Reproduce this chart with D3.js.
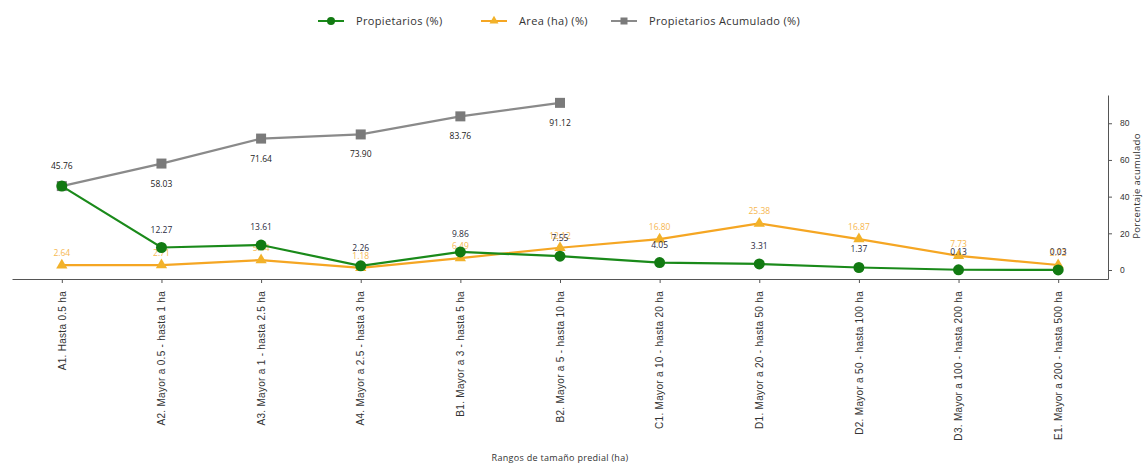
<!DOCTYPE html>
<html lang="es">
<head>
<meta charset="UTF-8">
<title>Rangos de tamaño predial</title>
<script src="https://cdn.jsdelivr.net/npm/d3@7"></script>
<style>
  body { margin: 0; background: #fff; }
  svg { font-family: "Open Sans", sans-serif; }
</style>
</head>
<body>
<svg width="1144" height="464"></svg>
<script>
// categories (size ranges)
const categories = [
  "A1. Hasta 0.5 ha",
  "A2. Mayor a 0.5 - hasta 1 ha",
  "A3. Mayor a 1 - hasta 2.5 ha",
  "A4. Mayor a 2.5 - hasta 3 ha",
  "B1. Mayor a 3 - hasta 5 ha",
  "B2. Mayor a 5 - hasta 10 ha",
  "C1. Mayor a 10 - hasta 20 ha",
  "D1. Mayor a 20 - hasta 50 ha",
  "D2. Mayor a 50 - hasta 100 ha",
  "D3. Mayor a 100 - hasta 200 ha",
  "E1. Mayor a 200 - hasta 500 ha"
];
const propietarios = [45.76, 12.27, 13.61, 2.26, 9.86, 7.55, 4.05, 3.31, 1.37, 0.13, 0.03];
const area = [2.64, 2.71, 5.44, 1.18, 6.49, 12.12, 16.80, 25.38, 16.87, 7.73, 2.72];
const acumulado = [45.76, 58.03, 71.64, 73.90, 83.76, 91.12];
const yTicks = [0, 20, 40, 60, 80];

const GREEN = "#1a8a1a", ORANGE = "#f5a623", GRAY = "#8a8a8a";

const svg = d3.select("svg");

const x = d3.scalePoint().domain(categories).range([12, 1108]).padding(0.5);
const y = d3.scaleLinear().domain([-4.9, 95.4]).range([279, 95]);

// bottom axis
const xAxis = svg.append("g")
    .attr("transform", "translate(0,279)")
    .call(d3.axisBottom(x).tickSize(4).tickSizeOuter(0));
xAxis.select(".domain").attr("stroke", "#555");
xAxis.selectAll(".tick line").attr("stroke", "#555");
xAxis.selectAll(".tick text")
    .attr("transform", "rotate(-90)")
    .attr("text-anchor", "end")
    .attr("x", -12)
    .attr("y", 0)
    .attr("dy", "0.32em")
    .attr("font-size", "10px")
    .attr("letter-spacing", "0.3px")
    .attr("fill", "#333");

// right axis
const yAxis = svg.append("g")
    .attr("transform", "translate(1108,0)")
    .call(d3.axisRight(y).tickValues(yTicks).tickSize(4).tickSizeOuter(0));
yAxis.select(".domain").attr("stroke", "#555");
yAxis.selectAll(".tick line").attr("stroke", "#555");
yAxis.selectAll(".tick text")
    .attr("x", 12)
    .attr("font-size", "8.5px")
    .attr("fill", "#333");

svg.append("text")
    .attr("transform", "translate(1140,186) rotate(-90)")
    .attr("text-anchor", "middle")
    .attr("font-size", "9.5px")
    .attr("letter-spacing", "0.3px")
    .attr("fill", "#333")
    .text("Porcentaje acumulado");

svg.append("text")
    .attr("x", 560)
    .attr("y", 461)
    .attr("text-anchor", "middle")
    .attr("font-size", "9px")
    .attr("letter-spacing", "0.3px")
    .attr("fill", "#333")
    .text("Rangos de tamaño predial (ha)");

const line = d3.line()
    .x((d, i) => x(categories[i]))
    .y(d => y(d));

// Propietarios Acumulado
svg.append("path").datum(acumulado)
    .attr("d", line).attr("fill", "none")
    .attr("stroke", GRAY).attr("stroke-width", 2.2);
svg.append("g").selectAll("rect").data(acumulado).enter().append("rect")
    .attr("x", (d, i) => x(categories[i]) - 5)
    .attr("y", d => y(d) - 5)
    .attr("width", 10).attr("height", 10)
    .attr("fill", "#7a7a7a");
svg.append("g").selectAll("text").data(acumulado).enter().append("text")
    .attr("x", (d, i) => x(categories[i]))
    .attr("y", (d, i) => i == 0 ? y(d) - 17 : y(d) + 23)
    .attr("text-anchor", "middle")
    .attr("font-size", "8.5px")
    .attr("fill", "#222")
    .text(d => d.toFixed(2));

// Area (ha)
svg.append("path").datum(area)
    .attr("d", line).attr("fill", "none")
    .attr("stroke", ORANGE).attr("stroke-width", 2.2);
const tri = d3.symbol().type(d3.symbolTriangle).size(55);
svg.append("g").selectAll("path").data(area).enter().append("path")
    .attr("transform", (d, i) => `translate(${x(categories[i])},${y(d)})`)
    .attr("d", tri)
    .attr("fill", "#f2b22a");
svg.append("g").selectAll("text").data(area).enter().append("text")
    .attr("x", (d, i) => x(categories[i]))
    .attr("y", d => y(d) - 9)
    .attr("text-anchor", "middle")
    .attr("font-size", "8.5px")
    .attr("fill", ORANGE)
    .attr("opacity", 0.8)
    .text(d => d.toFixed(2));

// Propietarios
svg.append("path").datum(propietarios)
    .attr("d", line).attr("fill", "none")
    .attr("stroke", GREEN).attr("stroke-width", 2.2);
svg.append("g").selectAll("circle").data(propietarios).enter().append("circle")
    .attr("cx", (d, i) => x(categories[i]))
    .attr("cy", d => y(d))
    .attr("r", 5.5)
    .attr("fill", "#127a12");
svg.append("g").selectAll("text").data(propietarios.slice(1)).enter().append("text")
    .attr("x", (d, i) => x(categories[i + 1]))
    .attr("y", d => y(d) - 15)
    .attr("text-anchor", "middle")
    .attr("font-size", "8.5px")
    .attr("fill", "#2a2a40")
    .text(d => d.toFixed(2));

// legend
const legendItems = [
  {name: "Propietarios (%)", color: GREEN, x: 318, mark: "circle"},
  {name: "Area (ha) (%)", color: ORANGE, x: 481, mark: "tri"},
  {name: "Propietarios Acumulado (%)", color: GRAY, x: 611, mark: "square"}
];
const legend = svg.append("g");
legendItems.forEach(it => {
  const g = legend.append("g").attr("transform", `translate(${it.x},21)`);
  g.append("line").attr("x1", 0).attr("x2", 26).attr("stroke", it.color).attr("stroke-width", 2);
  if (it.mark == "circle") g.append("circle").attr("cx", 13).attr("r", 4).attr("fill", "#127a12");
  if (it.mark == "tri") g.append("path").attr("transform", "translate(13,0)").attr("d", d3.symbol().type(d3.symbolTriangle).size(35)).attr("fill", "#f2b22a");
  if (it.mark == "square") g.append("rect").attr("x", 9.5).attr("y", -3.5).attr("width", 7).attr("height", 7).attr("fill", "#7a7a7a");
  g.append("text").attr("x", 38).attr("y", 0).attr("dy", "0.35em")
    .attr("font-size", "11px").attr("letter-spacing", "0.35px")
    .attr("fill", "#333").text(it.name);
});
</script>
</body>
</html>
